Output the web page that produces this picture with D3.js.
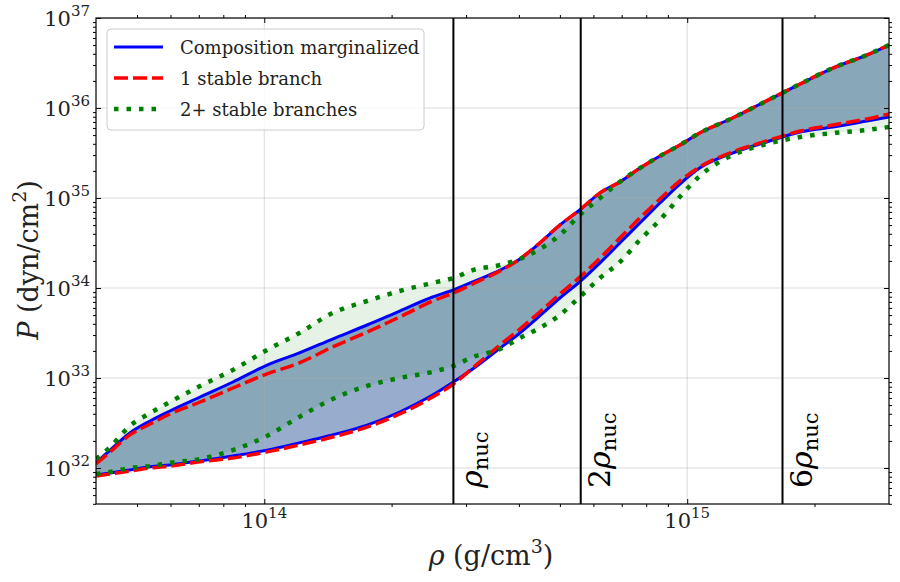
<!DOCTYPE html>
<html>
<head>
<meta charset="utf-8">
<script src="https://cdn.jsdelivr.net/npm/d3@7"></script>
<style>
body { margin: 0; background: #fff; }
svg { display: block; }
svg text { font-family: "DejaVu Serif", "Liberation Serif", serif; }
</style>
</head>
<body>
<script>
// density grid (g/cm^3) shared by all bounds
var rho = [4.0e13, 4.32e13, 4.81e13, 5.37e13, 5.98e13, 7.05e13, 8.43e13, 1.015e14, 1.21e14, 1.45e14,
           1.75e14, 2.09e14, 2.50e14, 2.8e14, 3.11e14, 3.61e14, 4.02e14, 4.48e14, 5.0e14, 5.57e14,
           6.22e14, 6.93e14, 7.73e14, 8.62e14, 9.61e14, 1.07e15, 1.28e15, 1.54e15, 1.85e15, 2.21e15,
           2.66e15, 3.0e15];

// pressure bounds (dyn/cm^2)
var compUpper = [1.14e32, 1.58e32, 2.45e32, 3.33e32, 4.30e32, 6.15e32, 9.03e32, 1.39e33, 1.90e33, 2.71e33,
                 3.88e33, 5.55e33, 7.94e33, 9.50e33, 1.17e34, 1.58e34, 2.10e34, 3.16e34, 5.01e34, 7.36e34,
                 1.14e35, 1.51e35, 2.15e35, 2.93e35, 3.88e35, 5.27e35, 7.74e35, 1.20e36, 1.85e36, 2.78e36,
                 3.88e36, 5.01e36];
var compLower = [8.36e31, 8.80e31, 9.50e31, 1.03e32, 1.08e32, 1.20e32, 1.36e32, 1.58e32, 1.90e32, 2.33e32,
                 3.00e32, 4.19e32, 6.47e32, 9.03e32, 1.26e33, 2.15e33, 3.16e33, 4.89e33, 7.74e33, 1.17e34,
                 1.90e34, 3.16e34, 5.27e34, 8.80e34, 1.43e35, 2.15e35, 3.16e35, 4.19e35, 5.41e35, 6.15e35,
                 7.17e35, 7.94e35];
var oneUpper = [1.11e32, 1.51e32, 2.33e32, 3.08e32, 3.98e32, 5.41e32, 7.74e32, 1.11e33, 1.47e33, 2.21e33,
                3.24e33, 4.76e33, 7.17e33, 8.80e33, 1.11e34, 1.55e34, 2.10e34, 3.16e34, 5.01e34, 7.36e34,
                1.14e35, 1.51e35, 2.15e35, 2.93e35, 3.88e35, 5.27e35, 7.74e35, 1.20e36, 1.85e36, 2.78e36,
                3.88e36, 5.01e36];
var oneLower = [8.15e31, 8.58e31, 9.26e31, 1.00e32, 1.05e32, 1.17e32, 1.29e32, 1.51e32, 1.80e32, 2.21e32,
                2.85e32, 3.98e32, 6.15e32, 8.58e32, 1.29e33, 2.33e33, 3.50e33, 5.41e33, 8.58e33, 1.32e34,
                2.15e34, 3.59e34, 6.00e34, 9.75e34, 1.55e35, 2.21e35, 3.24e35, 4.30e35, 5.55e35, 6.47e35,
                7.55e35, 8.58e35];
var twoUpper = [1.26e32, 1.71e32, 2.93e32, 4.08e32, 5.41e32, 8.15e32, 1.23e33, 2.05e33, 3.16e33, 5.27e33,
                7.17e33, 9.26e33, 1.14e34, 1.29e34, 1.58e34, 1.80e34, 2.10e34, 2.71e34, 3.88e34, 6.47e34,
                1.00e35, 1.51e35, 2.15e35, 2.93e35, 3.88e35, 5.27e35, 7.74e35, 1.20e36, 1.85e36, 2.78e36,
                3.88e36, 5.01e36];
var twoLower = [8.58e31, 9.03e31, 1.00e32, 1.05e32, 1.14e32, 1.26e32, 1.58e32, 2.27e32, 3.69e32, 5.84e32,
                8.15e32, 1.00e33, 1.17e33, 1.36e33, 1.71e33, 2.10e33, 2.78e33, 3.59e33, 5.01e33, 7.94e33,
                1.29e34, 1.94e34, 3.42e34, 5.70e34, 1.03e35, 1.75e35, 3.00e35, 3.98e35, 4.76e35, 5.27e35,
                5.70e35, 6.15e35];

// nuclear saturation density and its multiples
var rhoNuc = 2.8e14;
var nucMultiples = [1, 2, 6];
var nucPrefix = ["", "2", "6"];

var xTicks = [1e14, 1e15];
var xTickExp = ["14", "15"];
var yTicks = [1e32, 1e33, 1e34, 1e35, 1e36, 1e37];
var yTickExp = ["32", "33", "34", "35", "36", "37"];

var legendLabels = ["Composition marginalized", "1 stable branch", "2+ stable branches"];

var width = 900, height = 582;
// plot box (note: "top" is a reserved window global, so prefixed names)
var pLeft = 96, pRight = 889, pTop = 18, pBottom = 504;

var svg = d3.select("body").append("svg")
    .attr("width", width)
    .attr("height", height);

var x = d3.scaleLog().domain([4e13, 3e15]).range([pLeft, pRight]);
var y = d3.scaleLog().domain([3.98e31, 1e37]).range([pBottom, pTop]);

svg.append("clipPath").attr("id", "plot")
  .append("rect")
    .attr("x", pLeft).attr("y", pTop)
    .attr("width", pRight - pLeft).attr("height", pBottom - pTop);

var plot = svg.append("g").attr("clip-path", "url(#plot)");

function band(lo, hi) {
    return d3.area()
        .x(function(d, i) { return x(rho[i]); })
        .y0(function(d, i) { return y(lo[i]); })
        .y1(function(d, i) { return y(hi[i]); })
        .curve(d3.curveMonotoneX)(rho);
}
var line = d3.line()
    .x(function(d, i) { return x(rho[i]); })
    .y(function(d) { return y(d); })
    .curve(d3.curveMonotoneX);

// bands
plot.append("path").attr("d", band(compLower, compUpper))
    .attr("fill", "rgb(152,172,206)");
plot.append("path").attr("d", band(twoLower, twoUpper))
    .attr("fill", "green").attr("fill-opacity", 0.1);

// grid
plot.selectAll(".gx").data(xTicks).enter().append("line")
    .attr("x1", function(d) { return x(d); }).attr("x2", function(d) { return x(d); })
    .attr("y1", pTop).attr("y2", pBottom)
    .attr("stroke", "#b0b0b0").attr("stroke-opacity", 0.45).attr("stroke-width", 1);
plot.selectAll(".gy").data(yTicks).enter().append("line")
    .attr("y1", function(d) { return y(d); }).attr("y2", function(d) { return y(d); })
    .attr("x1", pLeft).attr("x2", pRight)
    .attr("stroke", "#b0b0b0").attr("stroke-opacity", 0.45).attr("stroke-width", 1);

// bound lines
var styles = [
    {color: "#0000ff", width: 3, dash: null},
    {color: "#ff0000", width: 3.5, dash: "14,5"},
    {color: "#008000", width: 4.5, dash: "4.5,8"}
];
[[compUpper, compLower], [oneUpper, oneLower], [twoUpper, twoLower]].forEach(function(pair, k) {
    pair.forEach(function(arr) {
        plot.append("path").attr("d", line(arr))
            .attr("fill", "none")
            .attr("stroke", styles[k].color)
            .attr("stroke-width", styles[k].width)
            .attr("stroke-dasharray", styles[k].dash);
    });
});

// nuclear density markers
nucMultiples.forEach(function(m, i) {
    var xv = x(rhoNuc * m);
    svg.append("line")
        .attr("x1", xv).attr("x2", xv).attr("y1", pTop).attr("y2", pBottom)
        .attr("stroke", "black").attr("stroke-width", 2);
    var t = svg.append("text")
        .attr("transform", "translate(" + (xv + 29) + "," + 488 + ") rotate(-90)")
        .attr("font-size", 30).attr("fill", "black");
    if (nucPrefix[i]) t.append("tspan").text(nucPrefix[i]);
    t.append("tspan").attr("font-style", "italic").text("ρ");
    t.append("tspan").attr("font-size", 21).attr("dy", 6).text("nuc");
});

// ticks
function minorTicks(lo, hi) {
    var out = [];
    for (var e = Math.floor(Math.log10(lo)); e <= Math.ceil(Math.log10(hi)); e++) {
        for (var m = 2; m <= 9; m++) {
            var v = m * Math.pow(10, e);
            if (v > lo && v < hi) out.push(v);
        }
    }
    return out;
}
var xMinor = minorTicks(4e13, 3e15);
var yMinor = minorTicks(3.98e31, 1e37);

function axisG(gen, tx, ty) {
    var g = svg.append("g").attr("transform", "translate(" + tx + "," + ty + ")").call(gen);
    g.select(".domain").remove();
    g.selectAll("line").attr("stroke", "black").attr("stroke-width", 1);
    return g;
}
axisG(d3.axisBottom(x).tickValues(xTicks).tickSize(-5).tickFormat(""), 0, pBottom);
axisG(d3.axisTop(x).tickValues(xTicks).tickSize(-5).tickFormat(""), 0, pTop);
axisG(d3.axisBottom(x).tickValues(xMinor).tickSize(3).tickFormat(""), 0, pBottom);
axisG(d3.axisTop(x).tickValues(xMinor).tickSize(3).tickFormat(""), 0, pTop);
axisG(d3.axisLeft(y).tickValues(yTicks).tickSize(-5).tickFormat(""), pLeft, 0);
axisG(d3.axisRight(y).tickValues(yTicks).tickSize(-5).tickFormat(""), pRight, 0);
axisG(d3.axisLeft(y).tickValues(yMinor).tickSize(3).tickFormat(""), pLeft, 0);
axisG(d3.axisRight(y).tickValues(yMinor).tickSize(3).tickFormat(""), pRight, 0);

// tick labels
xTicks.forEach(function(v, i) {
    var t = svg.append("text")
        .attr("x", x(v)).attr("y", 528)
        .attr("text-anchor", "middle").attr("font-size", 21).attr("fill", "#222");
    t.append("tspan").text("10");
    t.append("tspan").attr("font-size", 15).attr("dy", -10).text(xTickExp[i]);
});
yTicks.forEach(function(v, i) {
    var t = svg.append("text")
        .attr("x", 90).attr("y", y(v) + 8)
        .attr("text-anchor", "end").attr("font-size", 21).attr("fill", "#222");
    t.append("tspan").text("10");
    t.append("tspan").attr("font-size", 15).attr("dy", -10).text(yTickExp[i]);
});

// axis titles
var xt = svg.append("text")
    .attr("x", 491).attr("y", 565)
    .attr("text-anchor", "middle").attr("font-size", 27).attr("fill", "#222");
xt.append("tspan").attr("font-style", "italic").text("ρ");
xt.append("tspan").text(" (g/cm");
xt.append("tspan").attr("font-size", 19).attr("dy", -12).text("3");
xt.append("tspan").attr("dy", 12).text(")");

var yt = svg.append("text")
    .attr("transform", "translate(38,260) rotate(-90)")
    .attr("text-anchor", "middle").attr("font-size", 27).attr("fill", "#222");
yt.append("tspan").attr("font-style", "italic").text("P");
yt.append("tspan").text(" (dyn/cm");
yt.append("tspan").attr("font-size", 19).attr("dy", -12).text("2");
yt.append("tspan").attr("dy", 12).text(")");

// frame
svg.append("rect")
    .attr("x", pLeft).attr("y", pTop)
    .attr("width", pRight - pLeft).attr("height", pBottom - pTop)
    .attr("fill", "none").attr("stroke", "black").attr("stroke-width", 1.2);

// legend
var leg = svg.append("g");
leg.append("rect")
    .attr("x", 107).attr("y", 29).attr("width", 317).attr("height", 101).attr("rx", 4)
    .attr("fill", "white").attr("fill-opacity", 0.8)
    .attr("stroke", "#cccccc").attr("stroke-width", 1);
legendLabels.forEach(function(lab, i) {
    var ly = 47 + i * 31;
    leg.append("line")
        .attr("x1", 114).attr("x2", 163).attr("y1", ly).attr("y2", ly)
        .attr("stroke", styles[i].color).attr("stroke-width", styles[i].width)
        .attr("stroke-dasharray", styles[i].dash);
    leg.append("text")
        .attr("x", 180).attr("y", ly + 7)
        .attr("font-size", 18).attr("fill", "#222")
        .text(lab);
});
</script>
</body>
</html>
